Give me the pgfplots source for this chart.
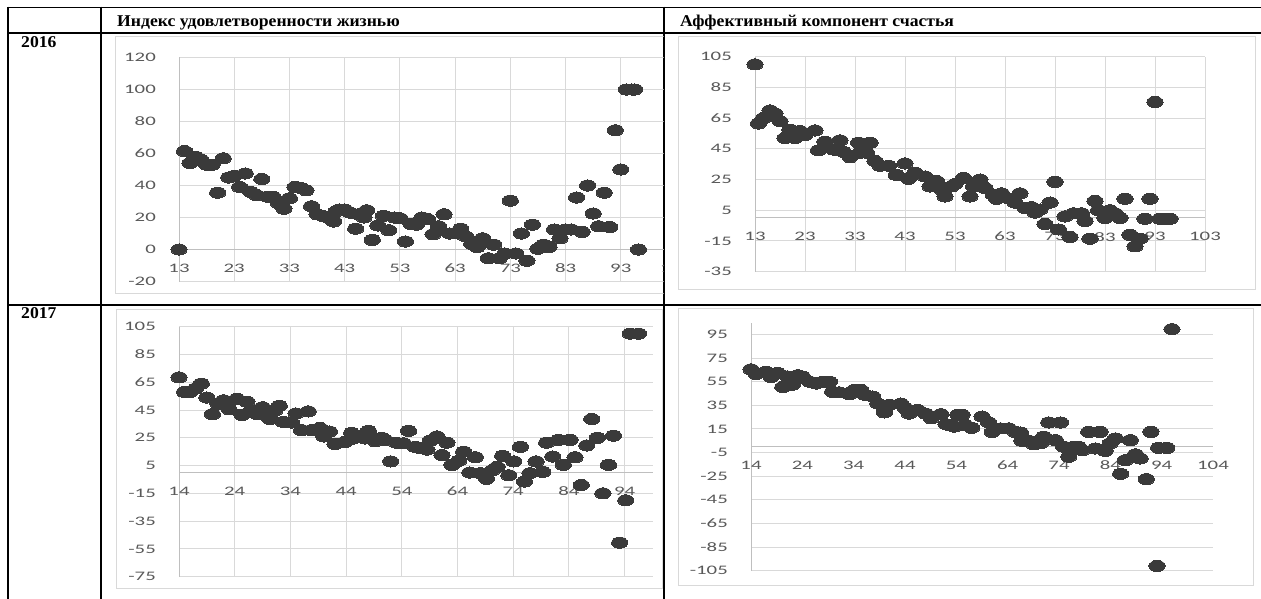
\documentclass[border=0pt]{standalone}
\usepackage{pgfplots}
\pgfplotsset{compat=1.18}
\usepackage{fontspec}
\setmainfont{Liberation Serif}
\newfontfamily\hdrfont[FakeStretch=1.07]{Liberation Serif}
\newfontfamily\tickfont[FakeStretch=1.6]{Carlito}

\definecolor{gridgray}{HTML}{D9D9D9}
\definecolor{axisgray}{HTML}{BFBFBF}
\definecolor{tickgray}{HTML}{595959}
\definecolor{markgray}{HTML}{3A3A3A}

\pgfplotsset{
  xlchart/.style={
    scale only axis, anchor=south west,
    axis x line*=middle, axis y line*=left,
    hide obscured x ticks=false, hide obscured y ticks=false,
    axis line style={draw=axisgray, line width=1bp, -},
    major tick length=0pt,
    grid=major, major grid style={draw=gridgray, line width=1bp},
    tick label style={font=\tickfont\fontsize{13bp}{15bp}\selectfont, text=tickgray},
    /pgf/number format/assume math mode=true,
    xticklabel style={anchor=north, inner sep=0pt, yshift=-14bp},
    yticklabel style={anchor=east, inner sep=0pt, xshift=-23bp},
    clip=false,
  },
  dots/.style={only marks, color=markgray, mark=*, mark size=5.6bp,
    mark options={xscale=1.45, draw=markgray, fill=markgray, line width=0pt}},
}
\newcommand{\hdr}{\hdrfont\fontsize{16.5bp}{19bp}\selectfont\bfseries}

\begin{document}
\begin{tikzpicture}[x=1bp,y=-1bp]
\path[use as bounding box] (0,0) rectangle (1261,599);

% table
\draw[line width=1.5bp] (8,7.5) -- (1261,7.5);
\draw[line width=1.5bp] (8,33) -- (1261,33);
\draw[line width=1.5bp] (8,305) -- (1261,305);
\draw[line width=2bp] (8,6.75) -- (8,599);
\draw[line width=2bp] (101,6.75) -- (101,599);
\draw[line width=1.5bp] (664,6.75) -- (664,599);

\node[anchor=base west, inner sep=0] at (117,27) {\hdr Индекс удовлетворенности жизнью};
\node[anchor=base west, inner sep=0] at (680,27) {\hdr Аффективный компонент счастья};
\node[anchor=base west, inner sep=0] at (21,47.5) {\hdr 2016};
\node[anchor=base west, inner sep=0] at (21,319) {\hdr 2017};

\coordinate (a1) at (179,281.5);
\coordinate (a2) at (755,271.7);
\coordinate (a3) at (179,576.7);
\coordinate (a4) at (751,570.7);

% 2016, life satisfaction
\begin{scope}
\clip (102,34) rectangle (663.5,304);
\draw[gridgray] (115.5,36.5) rectangle (700,293.5);
\begin{axis}[xlchart, at={(a1)}, width=497bp, height=224bp,
  xmin=13, xmax=103, ymin=-20, ymax=120,
  xtick={13,23,...,103}, ytick={-20,0,...,120}]
\addplot[dots] coordinates {
(13,0) (14,61.5) (15,54) (16,58) (17,56) (18,53) (19,53) (20,35.5) (21,57)
(22,45) (23,46) (24,39) (25,47.5) (26,36) (27,34) (28,44) (29,33) (30,33)
(31,29) (32,25.5) (33,32) (34,39) (35,38.5) (36,37) (37,27) (38,22) (39,21)
(40,20) (41,17.5) (41.5,24) (42,25) (43,25) (44,23) (45,13) (45.5,22)
(46.5,20) (47,24.5) (48,6) (49,15) (50,21) (51,12) (52,20) (53,19.5) (54,5)
(55,16) (56,15.5) (57,20) (58,19) (59,9.5) (60,14.5) (61,22) (62,10)
(63.5,10) (64,13) (65,8) (66,3.5) (67,1.5) (68,7) (69,-5.5) (70,3) (71,-5.5)
(72,-2.5) (73,30.5) (74,-2.5) (75,10) (76,-7) (77,15.5) (78,0.5) (79,3)
(80,1.5) (81,12.5) (82,7) (83,12.5) (84,12.5) (85,32.5) (86,11) (87,40)
(88,22.5) (89,14.5) (90,35.5) (91,14) (92,74.5) (93,50) (94,100) (95,100)
(95.5,100) (96.2,0)
};
\end{axis}
\end{scope}

% 2016, affective component
\draw[gridgray] (678.5,36.5) rectangle (1255,289.5);
\begin{axis}[xlchart, at={(a2)}, width=450bp, height=215bp,
  xmin=13, xmax=103, ymin=-35, ymax=105,
  xtick={13,23,...,103}, ytick={-35,-15,...,105}]
\addplot[dots] coordinates {
(13,100) (13.7,61.5) (14.7,65) (16,70) (17,68) (18,63) (19,52) (20,57.5)
(21,52) (22,56.5) (23,54) (25,57) (25.7,44) (27,49.5) (28.7,44.5) (30,50.5)
(30.7,43) (32,39.5) (33.7,49) (34,42.5) (35.3,42.5) (36,49) (37,37) (38,34)
(39.7,34) (41.3,28) (43,35.5) (43.7,25.5) (45,29.5) (47,27) (48,20.5)
(49.3,24) (50.3,18.5) (51,14) (52.3,20.5) (53,22) (54.7,26) (56,14)
(56.7,20.5) (58,25) (59,19.5) (60.7,15) (61.3,12.5) (62.3,16) (64,12.5)
(65,10) (66,16) (67,6.5) (68.3,7) (69,3.5) (70,5.5) (71,-4) (72,10)
(73,23.5) (73.7,-7.5) (75,1) (76,-12.5) (76.7,3) (78.3,3) (79,-2) (80,-13.5)
(81,11) (81.7,5) (83,0) (84,5) (85,3) (86,0) (87,12.5) (88,-11) (89,-18.5)
(90,-13.5) (91,-0.5) (92,12.5) (93,75.5) (94,-0.5) (95,-0.5) (96,-0.5)
};
\end{axis}

% 2017, life satisfaction
\draw[gridgray] (116,309) rectangle (662.5,587.7);
\begin{axis}[xlchart, at={(a3)}, width=473.5bp, height=250bp,
  xmin=14, xmax=99, ymin=-75, ymax=105,
  xtick={14,24,...,94}, ytick={-75,-55,...,105}]
\addplot[dots] coordinates {
(14,68.5) (15,58) (16,58) (17,60.5) (18,64) (19,54) (20,42) (21,49.5)
(22,52) (23,51) (23,45.5) (24.4,53) (25.3,41.5) (26.2,51) (27,44.5) (28,42)
(29,47) (29.7,41.5) (30.3,38.5) (31.2,44.5) (32,48) (32.7,36.5) (34.2,36)
(35,42.5) (36,30.5) (37.2,44) (37.8,30.5) (39.3,32) (40,26) (41,29.5)
(42,20.5) (43.8,22) (45,28.5) (45.3,24.5) (47.4,24.5) (48,30) (49.2,22.5)
(50.4,25) (51,23.5) (52,8) (53,21.5) (54.3,21) (55.2,30) (56.4,18.5)
(57.3,17.5) (58.5,16.5) (59.1,23) (60.3,26) (61.2,12.5) (62.1,21.5) (63,5.5)
(64.2,8.5) (65.1,15) (66.2,0) (67.2,11) (68.1,-0.5) (69.2,-4.5) (70.2,1.5)
(71.1,4) (72.1,12) (73.2,-2) (74.1,8) (75.3,18.5) (76,-6.5) (77,-0.5)
(78.1,8) (79.3,0.5) (80,21.5) (81.1,11.5) (82.1,23.5) (83,5.5) (84.2,23.5)
(85.1,11) (86.2,-9) (87.2,19.5) (88.1,38.5) (89.1,25) (90.1,-15) (91.1,5.5)
(92,26.5) (93.1,-50.5) (94.2,-20) (95,100) (96.5,100)
};
\end{axis}

% 2017, affective component
\draw[gridgray] (678,308) rectangle (1253,585);
\begin{axis}[xlchart, at={(a4)}, width=462bp, height=248bp,
  xmin=14, xmax=104, ymin=-105, ymax=105, xmajorgrids=false,
  xtick={14,24,...,104}, ytick={-105,-85,...,95}]
\addplot[dots] coordinates {
(14,65.5) (15,61.5) (16.9,63.5) (17.9,59) (19.2,62.5) (20.2,50.5)
(21.1,59.5) (22.1,52.5) (23.1,60.5) (24,59.5) (25.4,55) (26.7,53.5) (28,55)
(29.3,55) (29.9,46.5) (31.2,46) (33.2,44.5) (34.1,48) (35.4,48) (36.1,44)
(37.7,42.5) (38.7,36.5) (40,29) (41,35.5) (43.2,36.5) (44,33) (44.8,28)
(46.5,31) (48,28) (49.1,24) (51,27.5) (52,19) (52.5,18.5) (53.6,17)
(54.3,27) (55.1,27) (55.7,18.5) (57,16) (59,25.5) (60.3,20.5) (61,12.5)
(62.6,15.5) (64.2,15.5) (65.5,12.5) (66.5,12) (66.8,5) (68.1,5) (69.1,2)
(70.4,3) (71,8.5) (72,20.5) (73.3,5.5) (74.3,20.5) (74.9,0) (75.9,-8.5)
(76.9,0) (77.8,0) (78.5,-3) (79.8,12.5) (81.1,-1.5) (82,12.5) (83,-3.5)
(84,3) (85,7) (86,-23) (86.9,-11.5) (87.9,5.5) (88.9,-6.5) (89.8,-10)
(91,-27.5) (91.9,12.5) (93.1,-101) (93.4,-1) (95,-1) (96,99.5)
};
\end{axis}
\end{tikzpicture}
\end{document}
